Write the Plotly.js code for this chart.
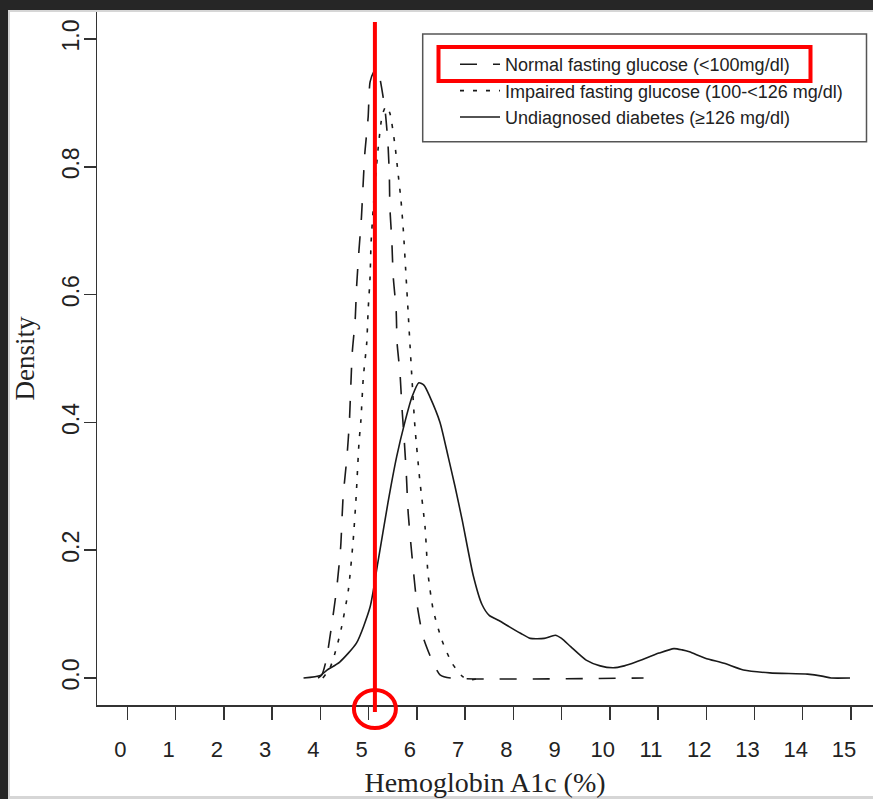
<!DOCTYPE html>
<html>
<head>
<meta charset="utf-8">
<script src="https://cdn.plot.ly/plotly-3.0.1.min.js"></script>
<style>html,body{margin:0;padding:0;background:#fff;}#chart{width:873px;height:799px;}</style>
</head>
<body>
<div id="chart"></div>
<script>
// Normal fasting glucose (<100 mg/dl) — dashed
const normalX = [3.95,4.03,4.12,4.24,4.34,4.42,4.47,4.55,4.60,4.66,4.72,4.75,4.80,4.85,4.88,4.92,4.99,5.03,5.12,5.19,5.24,5.34,5.40,5.43,5.44,5.48,5.51,5.57,5.59,5.65,5.69,5.74,5.78,5.82,5.90,6.00,6.13,6.34,6.48,6.70,10.70];
const normalY = [0.000,0.005,0.028,0.086,0.142,0.205,0.283,0.346,0.400,0.509,0.560,0.612,0.670,0.720,0.764,0.820,0.878,0.933,0.950,0.951,0.936,0.889,0.837,0.784,0.737,0.685,0.628,0.576,0.524,0.477,0.424,0.370,0.321,0.258,0.190,0.117,0.064,0.023,0.005,0.000,0.000];

// Impaired fasting glucose (100-<126 mg/dl) — dotted
const impairedX = [4.05,4.20,4.34,4.44,4.58,4.68,4.74,4.80,4.84,4.89,4.96,4.99,5.03,5.05,5.10,5.15,5.20,5.28,5.36,5.44,5.55,5.61,5.67,5.72,5.78,5.82,5.86,5.90,5.96,6.06,6.17,6.23,6.34,6.52,6.73,6.95,7.10,7.30];
const impairedY = [0.000,0.016,0.049,0.080,0.138,0.216,0.283,0.368,0.404,0.471,0.524,0.576,0.628,0.680,0.740,0.790,0.831,0.880,0.895,0.884,0.831,0.790,0.748,0.700,0.623,0.571,0.518,0.466,0.393,0.310,0.236,0.164,0.106,0.059,0.023,0.002,-0.003,0.000];

// Undiagnosed diabetes (>=126 mg/dl) — solid
const diabetesX = [3.65,4.00,4.13,4.40,4.75,5.03,5.19,5.40,5.58,5.75,5.90,6.04,6.15,6.27,6.48,6.65,6.79,6.94,7.17,7.35,7.50,7.70,7.92,8.15,8.35,8.64,8.87,9.00,9.19,9.51,9.80,10.07,10.30,10.54,11.02,11.33,11.50,11.65,11.98,12.37,12.77,13.32,14.10,14.40,14.59,14.98];
const diabetesY = [0.000,0.004,0.012,0.025,0.055,0.111,0.180,0.274,0.346,0.400,0.440,0.462,0.458,0.440,0.400,0.346,0.300,0.247,0.160,0.115,0.098,0.090,0.080,0.070,0.062,0.062,0.067,0.062,0.049,0.028,0.019,0.016,0.019,0.025,0.039,0.046,0.044,0.041,0.031,0.023,0.0125,0.008,0.006,0.003,0.000,0.000];

const seriesNames = ["Normal fasting glucose (<100mg/dl)","Impaired fasting glucose (100-<126 mg/dl)","Undiagnosed diabetes (\u2265126 mg/dl)"];
const xTicks = [0,1,2,3,4,5,6,7,8,9,10,11,12,13,14,15];
const yTicks = [0,0.2,0.4,0.6,0.8,1.0];
const yTickText = ["0.0","0.2","0.4","0.6","0.8","1.0"];
const markedHbA1c = 5.13;

const ink = '#1a1a1a';
const traces = [
  {x: normalX, y: normalY, name: seriesNames[0], legendgroup:'a', mode:'lines', line:{color:ink, width:1.6, dash:'17px,16px', shape:'spline', smoothing:0.6}},
  {x: impairedX, y: impairedY, name: seriesNames[1], legendgroup:'b', mode:'lines', line:{color:ink, width:1.6, dash:'4px,9px', shape:'spline', smoothing:0.6}},
  {x: diabetesX, y: diabetesY, name: seriesNames[2], legendgroup:'c', mode:'lines', line:{color:ink, width:1.6, shape:'spline', smoothing:0.6}}
];

const W = 776, H = 693, L = 97, T = 12;
const px = v => (v - L) / W;
const py = v => (T + H - v) / H;

const layout = {
  width: 873, height: 799,
  margin: {l: L, r: 0, t: T, b: 799 - T - H},
  paper_bgcolor: '#ffffff', plot_bgcolor: '#ffffff',
  showlegend: true,
  legend: {
    x: px(455), y: py(46), xanchor:'left', yanchor:'top',
    bgcolor:'rgba(0,0,0,0)', borderwidth:0,
    font:{family:'Liberation Sans, Arial, sans-serif', size:18, color:'#222'},
    tracegroupgap: 0, itemwidth: 40
  },
  xaxis: {
    range: [-0.632, 15.457], tickvals: xTicks, ticktext: xTicks.map(String),
    showgrid:false, zeroline:false, showline:true, linecolor:'#333', linewidth:1.5,
    ticks:'outside', ticklen:13, tickwidth:1.5, tickcolor:'#333',
    ticklabelshift: -7, ticklabelstandoff: 11,
    tickfont:{family:'Liberation Sans, Arial, sans-serif', size:22, color:'#222'},
    title:{text:'Hemoglobin A1c (%)', font:{family:'Liberation Serif, Times New Roman, serif', size:28, color:'#222'}, standoff: 11}
  },
  yaxis: {
    range: [-0.04225, 1.04225], tickvals: yTicks, ticktext: yTickText,
    showgrid:false, zeroline:false, showline:true, linecolor:'#333', linewidth:1.5,
    ticks:'outside', ticklen:12, tickwidth:1.5, tickcolor:'#333', tickangle:-90,
    ticklabelstandoff: -5,
    tickfont:{family:'Liberation Sans, Arial, sans-serif', size:23, color:'#222'},
    title:{text:'Density', font:{family:'Liberation Serif, Times New Roman, serif', size:27, color:'#222'}, standoff: 16}
  },
  shapes: [
    // screenshot frame
    {type:'rect', xref:'paper', yref:'paper', x0:px(-5), x1:px(880), y0:py(10), y1:py(-5), fillcolor:'#262626', line:{width:0}, layer:'above'},
    {type:'rect', xref:'paper', yref:'paper', x0:px(-5), x1:px(880), y0:py(12), y1:py(10), fillcolor:'#d6d6d6', line:{width:0}, layer:'above'},
    {type:'rect', xref:'paper', yref:'paper', x0:px(-5), x1:px(8), y0:py(805), y1:py(-5), fillcolor:'#262626', line:{width:0}, layer:'above'},
    {type:'rect', xref:'paper', yref:'paper', x0:px(8), x1:px(10), y0:py(805), y1:py(12), fillcolor:'#d6d6d6', line:{width:0}, layer:'above'},
    {type:'rect', xref:'paper', yref:'paper', x0:px(8), x1:px(880), y0:py(805), y1:py(796), fillcolor:'#d6d6d6', line:{width:0}, layer:'above'},
    // legend box
    {type:'rect', xref:'paper', yref:'paper', x0:px(422.7), x1:px(866.5), y0:py(141.7), y1:py(34), line:{color:'#555', width:1.5}, fillcolor:'rgba(0,0,0,0)', layer:'above'},
    // red highlight box on first legend entry
    {type:'rect', xref:'paper', yref:'paper', x0:px(438.5), x1:px(810.5), y0:py(81), y1:py(47), line:{color:'#ff0000', width:4}, fillcolor:'rgba(0,0,0,0)', layer:'above'},
    // red marker line
    {type:'line', xref:'x', yref:'paper', x0:markedHbA1c, x1:markedHbA1c, y0:py(712), y1:py(22), line:{color:'#ff0000', width:4}, layer:'above'},
    // red circle
    {type:'circle', xref:'x', yref:'paper', x0:markedHbA1c-0.435, x1:markedHbA1c+0.435, y0:py(728), y1:py(690), line:{color:'#ff0000', width:4}, fillcolor:'rgba(0,0,0,0)', layer:'above'}
  ]
};

Plotly.newPlot('chart', traces, layout, {displayModeBar:false, staticPlot:true});
</script>
</body>
</html>
